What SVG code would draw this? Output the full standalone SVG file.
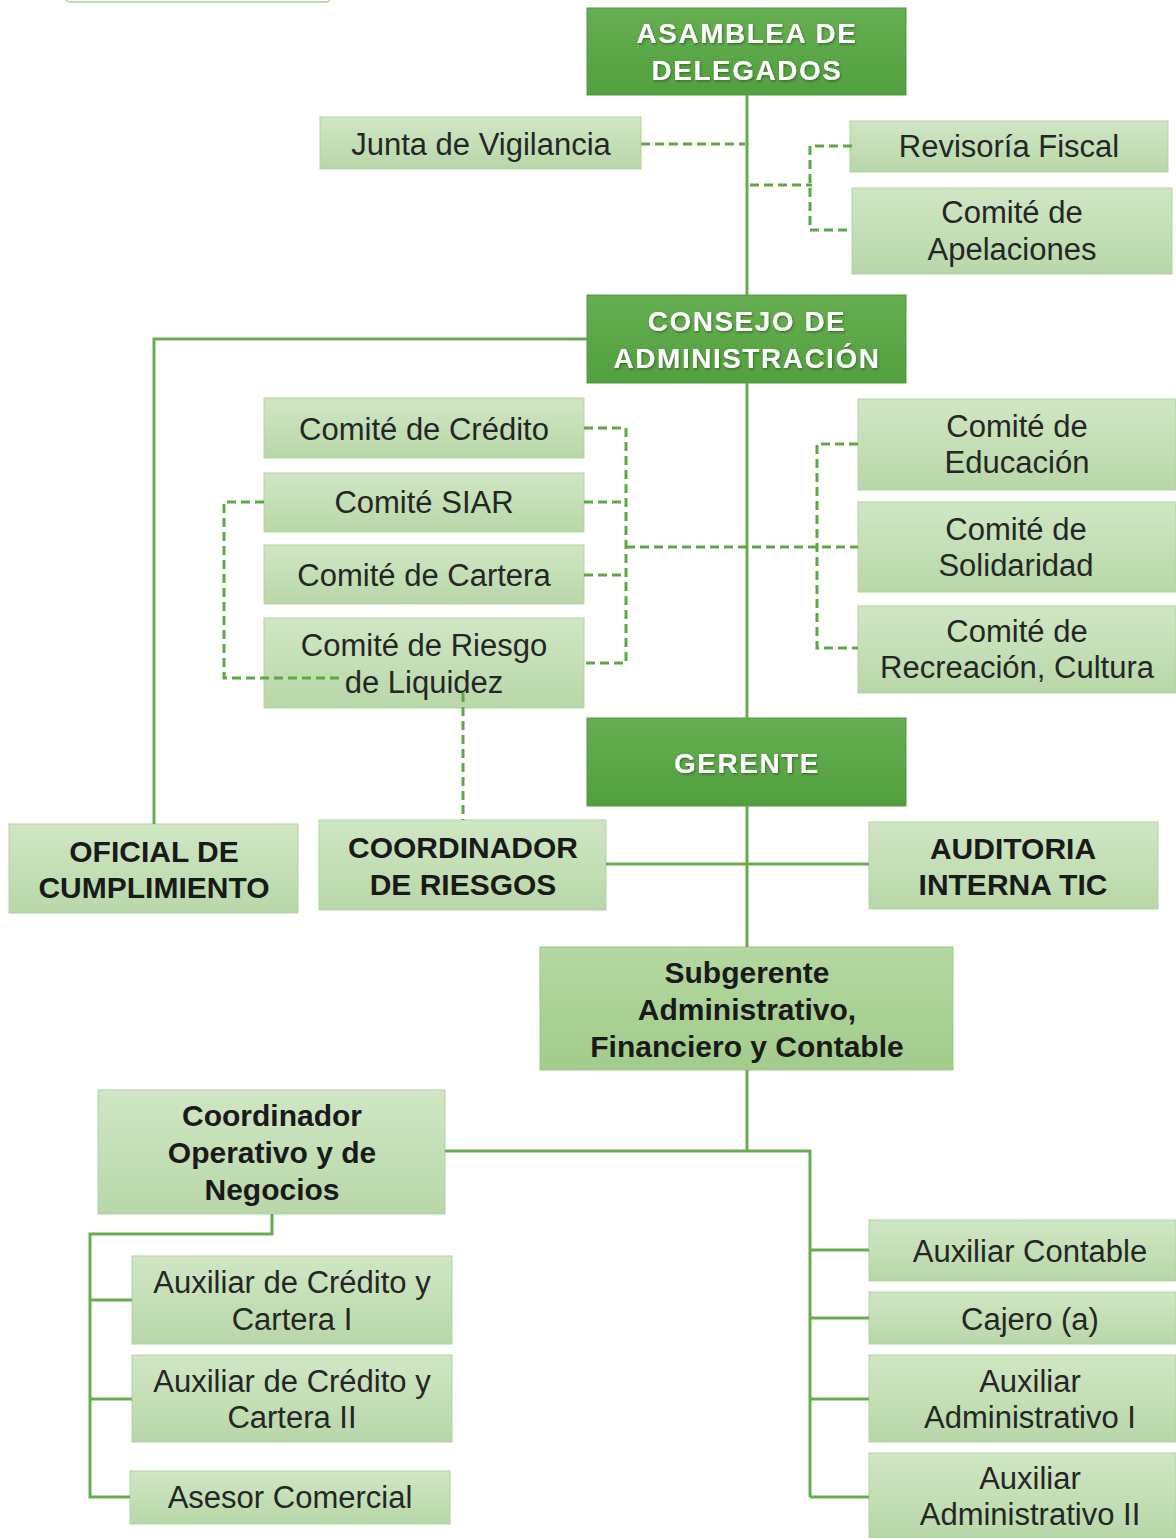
<svg xmlns="http://www.w3.org/2000/svg" width="1176" height="1538" viewBox="0 0 1176 1538">
<defs>
<linearGradient id="gDark" x1="0" y1="0" x2="0" y2="1"><stop offset="0" stop-color="#67af52"/><stop offset="1" stop-color="#51a03e"/></linearGradient>
<linearGradient id="gLight" x1="0" y1="0" x2="0" y2="1"><stop offset="0" stop-color="#d0e6c4"/><stop offset="0.5" stop-color="#c4dfb6"/><stop offset="1" stop-color="#b8d7a8"/></linearGradient>
<linearGradient id="gMid" x1="0" y1="0" x2="0" y2="1"><stop offset="0" stop-color="#b4d8a1"/><stop offset="1" stop-color="#a2cc8b"/></linearGradient>
<filter id="ts" x="-10%" y="-30%" width="120%" height="160%"><feDropShadow dx="1" dy="1.5" stdDeviation="0.8" flood-color="#2d5a22" flood-opacity="0.7"/></filter>
</defs>
<style>
.dark{fill:url(#gDark);stroke:#4f9a3c;stroke-width:1}
.light{fill:url(#gLight);stroke:#b2d3a1;stroke-width:1}
.mid{fill:url(#gMid);stroke:#9cc886;stroke-width:1}
.tw{font-family:"Liberation Sans",Arial,sans-serif;font-size:28px;font-weight:bold;fill:#ffffff;text-anchor:middle;letter-spacing:1.5px;filter:url(#ts)}
.t{font-family:"Liberation Sans",Arial,sans-serif;font-size:31px;fill:#262626;text-anchor:middle}
.tb{font-family:"Liberation Sans",Arial,sans-serif;font-size:30px;font-weight:bold;fill:#1a1a1a;text-anchor:middle}
.solid{fill:none;stroke:#6aab52;stroke-width:3}
.dash{fill:none;stroke:#5fa647;stroke-width:3;stroke-dasharray:9 5}
</style>
<rect width="1176" height="1538" fill="#ffffff"/>
<rect x="66" y="-30" width="264" height="32" rx="4" fill="#ffffff" stroke="#a6cf94" stroke-width="1.5"/>

<g id="nodes">
<g id="asamblea"><rect class="dark" x="587" y="8" width="319" height="87"/><text class="tw" x="747" y="43">ASAMBLEA DE</text><text class="tw" x="747" y="80">DELEGADOS</text></g>
<g id="junta"><rect class="light" x="320" y="117" width="321" height="52"/><text class="t" x="481" y="155">Junta de Vigilancia</text></g>
<g id="revisoria"><rect class="light" x="850" y="121" width="318" height="51"/><text class="t" x="1009" y="157">Revisoría Fiscal</text></g>
<g id="apelaciones"><rect class="light" x="852" y="188" width="320" height="86"/><text class="t" x="1012" y="223">Comité de</text><text class="t" x="1012" y="260">Apelaciones</text></g>
<g id="consejo"><rect class="dark" x="587" y="295" width="319" height="88"/><text class="tw" x="747" y="331">CONSEJO DE</text><text class="tw" x="747" y="368">ADMINISTRACIÓN</text></g>
<g id="credito"><rect class="light" x="264" y="398" width="320" height="60"/><text class="t" x="424" y="440">Comité de Crédito</text></g>
<g id="siar"><rect class="light" x="264" y="473" width="320" height="59"/><text class="t" x="424" y="513">Comité SIAR</text></g>
<g id="cartera"><rect class="light" x="264" y="545" width="320" height="59"/><text class="t" x="424" y="586">Comité de Cartera</text></g>
<g id="riesgo"><rect class="light" x="264" y="618" width="320" height="90"/><text class="t" x="424" y="656">Comité de Riesgo</text><text class="t" x="424" y="693">de Liquidez</text></g>
<g id="educacion"><rect class="light" x="858" y="399" width="318" height="91"/><text class="t" x="1017" y="437">Comité de</text><text class="t" x="1017" y="473">Educación</text></g>
<g id="solidaridad"><rect class="light" x="858" y="502" width="318" height="90"/><text class="t" x="1016" y="540">Comité de</text><text class="t" x="1016" y="576">Solidaridad</text></g>
<g id="recreacion"><rect class="light" x="858" y="606" width="318" height="87"/><text class="t" x="1017" y="642">Comité de</text><text class="t" x="1017" y="678">Recreación, Cultura</text></g>
<g id="gerente"><rect class="dark" x="587" y="718" width="319" height="88"/><text class="tw" x="747" y="773">GERENTE</text></g>
<g id="oficial"><rect class="light" x="9" y="824" width="289" height="89"/><text class="tb" x="154" y="862">OFICIAL DE</text><text class="tb" x="154" y="898">CUMPLIMIENTO</text></g>
<g id="coordriesgos"><rect class="light" x="319" y="820" width="287" height="90"/><text class="tb" x="463" y="858">COORDINADOR</text><text class="tb" x="463" y="895">DE RIESGOS</text></g>
<g id="auditoria"><rect class="light" x="869" y="822" width="289" height="87"/><text class="tb" x="1013" y="859">AUDITORIA</text><text class="tb" x="1013" y="895">INTERNA TIC</text></g>
<g id="subgerente"><rect class="mid" x="540" y="947" width="413" height="123"/><text class="tb" x="747" y="983">Subgerente</text><text class="tb" x="747" y="1020">Administrativo,</text><text class="tb" x="747" y="1057">Financiero y Contable</text></g>
<g id="coordoperativo"><rect class="light" x="98" y="1090" width="347" height="124"/><text class="tb" x="272" y="1126">Coordinador</text><text class="tb" x="272" y="1163">Operativo y de</text><text class="tb" x="272" y="1200">Negocios</text></g>
<g id="auxcred1"><rect class="light" x="132" y="1256" width="320" height="88"/><text class="t" x="292" y="1293">Auxiliar de Crédito y</text><text class="t" x="292" y="1330">Cartera I</text></g>
<g id="auxcred2"><rect class="light" x="132" y="1355" width="320" height="87"/><text class="t" x="292" y="1392">Auxiliar de Crédito y</text><text class="t" x="292" y="1428">Cartera II</text></g>
<g id="asesor"><rect class="light" x="130" y="1471" width="320" height="53"/><text class="t" x="290" y="1508">Asesor Comercial</text></g>
<g id="auxcontable"><rect class="light" x="869" y="1220" width="307" height="61"/><text class="t" x="1030" y="1262">Auxiliar Contable</text></g>
<g id="cajero"><rect class="light" x="869" y="1292" width="307" height="52"/><text class="t" x="1030" y="1330">Cajero (a)</text></g>
<g id="auxadm1"><rect class="light" x="869" y="1355" width="307" height="87"/><text class="t" x="1030" y="1392">Auxiliar</text><text class="t" x="1030" y="1428">Administrativo I</text></g>
<g id="auxadm2"><rect class="light" x="869" y="1453" width="307" height="85"/><text class="t" x="1030" y="1489">Auxiliar</text><text class="t" x="1030" y="1525">Administrativo II</text></g>
</g>

<g id="connectors">
<path class="solid" d="M747 95V295M747 383V718M587 339H154V824M747 806V947M606 864H869M747 1070V1151M445 1151H810V1497M810 1250H869M810 1318H869M810 1399H869M810 1497H869M272 1214V1234H90V1497H130M90 1300H132M90 1399H132"/>
<path class="dash" d="M641 144H745M750 185H812M852 146H810V230H852M584 428H626V663H584M584 502H626M584 575H626M626 547H858M264 502H224V678H340M858 444H817V648H858M463 693V820"/>
</g>
</svg>
